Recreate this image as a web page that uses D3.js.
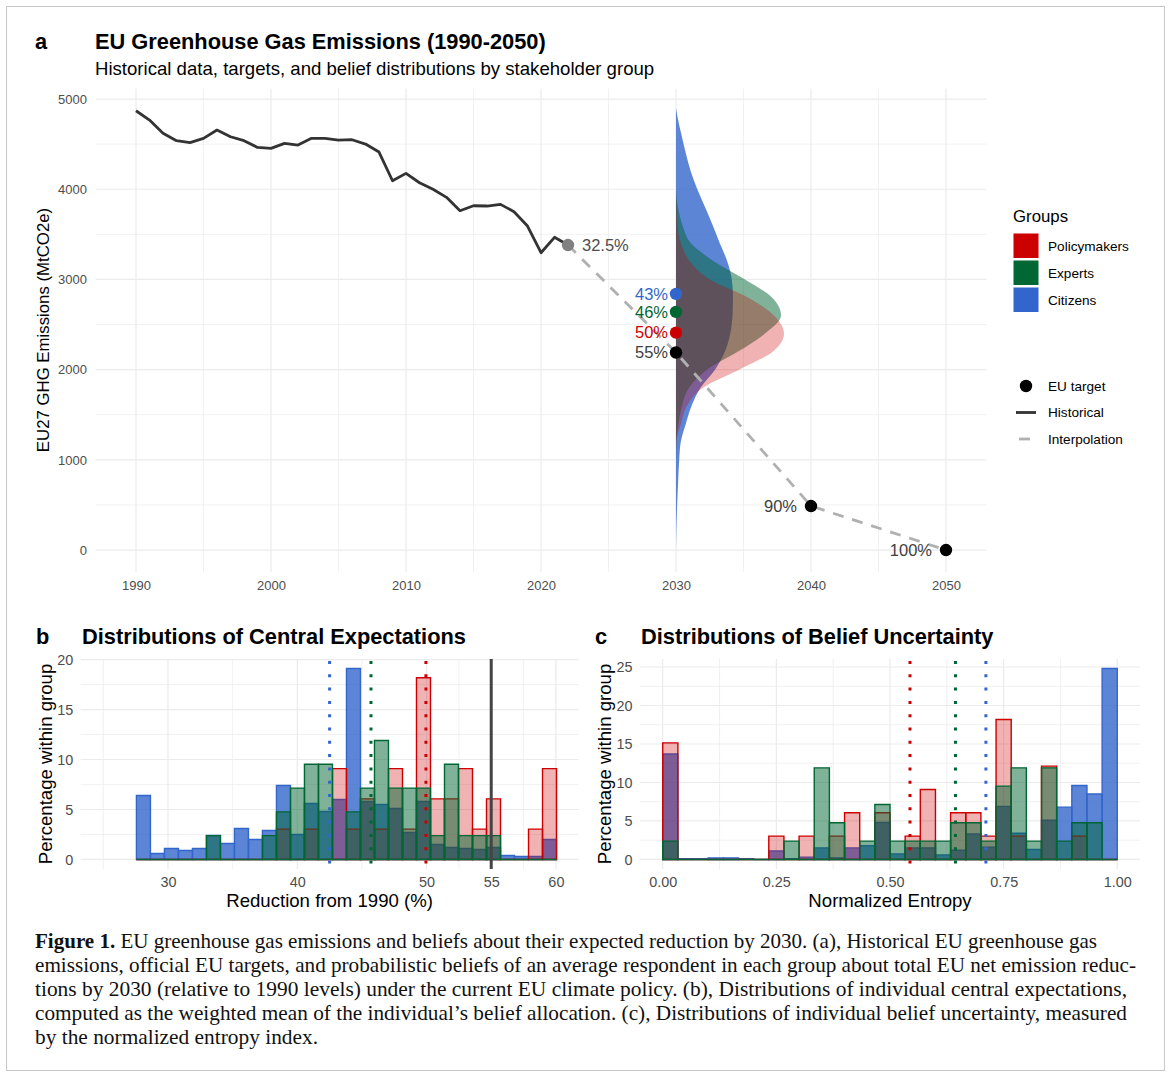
<!DOCTYPE html>
<html><head><meta charset="utf-8">
<script src="https://cdn.jsdelivr.net/npm/d3@7"></script>
<style>body{margin:0;background:#fff;}</style>
</head><body>
<svg id="c" width="1170" height="1075"></svg>
<script>
// ================= DATA =================
const histYears = d3.range(1990, 2023);
const histEmissions = [4870,4767,4620,4538,4516,4564,4656,4582,4538,4464,4453,4509,4490,4564,4564,4545,4549,4501,4412,4094,4176,4072,3999,3910,3762,3817,3814,3832,3751,3592,3296,3467,3381];
const lastHistLabel = "32.5%";
const targetYears = [2030, 2040, 2050];
const targetEmissions = [2190, 488, 0];
const targetLabels = ["55%", "90%", "100%"];

const groups = ["Policymakers", "Experts", "Citizens"];
const groupColors = ["#CC0000", "#006633", "#3366CC"];
const groupMeanEmissions = [2410, 2640, 2840];
const groupMeanLabels = ["50%", "46%", "43%"];

// belief densities at 2030 (relative density) by emission level (MtCO2e)
const densityLevels = [0,200,400,600,800,1000,1200,1400,1600,1800,2000,2200,2400,2600,2800,3000,3200,3400,3600,3800,4000,4200,4400,4600,4800,4900];
const densPolicymakers = [0,0,0,0,0,0,0.5,5,11,27,63,97,108,98,72,34,14,5,1.5,0.5,0,0,0,0,0,0];
const densExperts      = [0,0,0,0,0,0,0.3,2.5,6,13,31,62,89,105,96,69,38,15,6.5,2,0,0,0,0,0,0];
const densCitizens     = [0,0.3,0.8,1.5,2.3,3.2,4.8,9.8,15.6,24.5,39,49,54.3,56.5,57,55.8,51.3,43.8,36.7,29.1,21.3,14.7,9.8,5.5,1.5,0];

const xTicksA = [1990, 2000, 2010, 2020, 2030, 2040, 2050];
const yTicksA = [0, 1000, 2000, 3000, 4000, 5000];

// Panel b: central expectations histogram (percentage within group), 30 bins
const binStartB = 27.56, binWidthB = 1.083;
const citizensB = [6.4,0.6,1.1,0.9,1.1,2.4,1.6,3.1,2.0,2.9,7.4,2.5,5.6,4.8,6.0,19.1,5.8,5.5,5.1,2.7,5.8,1.5,1.2,1.1,1.0,1.2,0.4,0.3,0.3,2.0];
const expertsB  = [0,0,0,0,0,2.38,0,0,0,2.38,4.76,7.14,9.52,9.52,0,4.76,7.14,11.9,7.14,7.14,7.14,2.38,9.52,2.38,2.38,2.38,0,0,0,0];
const policyB   = [0,0,0,0,0,0,0,0,0,0,3.03,0,3.03,0,9.09,3.03,6.06,3.03,9.09,3.03,18.18,6.06,6.06,9.09,3.03,6.06,0,0,3.03,9.09];
const meansB = [49.95, 45.7, 42.5];   // Policymakers, Experts, Citizens
const targetB = 55;
const xTicksB = [30, 40, 50, 55, 60];
const yTicksB = [0, 5, 10, 15, 20];

// Panel c: normalized entropy histogram, 30 bins on [0,1]
const binStartC = 0, binWidthC = 1/30;
const citizensC = [13.7,0.1,0.1,0.2,0.2,0.1,0,1.1,0.1,0.3,1.5,0.2,1.5,1.8,4.8,0.7,1.5,1.5,0.6,1.2,3.3,1.6,6.9,3.4,1.3,5.1,6.8,9.6,8.5,24.8];
const expertsC  = [2.38,0,0,0,0,0,0,0,2.38,0,11.9,4.76,0,2.38,7.14,2.38,2.38,2.38,2.38,4.76,4.76,2.38,9.52,11.9,2.38,11.9,2.38,4.76,4.76,0];
const policyC   = [15.15,0,0,0,0,0,0,3.03,0,3.03,0,3.03,6.06,0,6.06,0,3.03,9.09,0,6.06,6.06,3.03,18.18,3.03,0,12.12,0,3.03,0,0];
const meansC = [0.544, 0.644, 0.711];
const xTicksC = [0, 0.25, 0.5, 0.75, 1];
const yTicksC = [0, 5, 10, 15, 20, 25];

const captionLines = [
  ["Figure 1.", " EU greenhouse gas emissions and beliefs about their expected reduction by 2030. (a), Historical EU greenhouse gas"],
  ["", "emissions, official EU targets, and probabilistic beliefs of an average respondent in each group about total EU net emission reduc-"],
  ["", "tions by 2030 (relative to 1990 levels) under the current EU climate policy. (b), Distributions of individual central expectations,"],
  ["", "computed as the weighted mean of the individual\u2019s belief allocation. (c), Distributions of individual belief uncertainty, measured"],
  ["", "by the normalized entropy index."]
];

// ================= STYLE HELPERS =================
const FONT = "'Liberation Sans', Arial, Helvetica, sans-serif";
const SERIF = "'Liberation Serif', 'Times New Roman', serif";
const GRID = "#ebebeb";
const alphaOf = {Policymakers: 0.3, Experts: 0.5, Citizens: 0.8};
const colorOf = {}; groups.forEach((g,i)=>colorOf[g]=groupColors[i]);
const expand = (a, b, m=0.05) => [a-(b-a)*m, b+(b-a)*m];

const svg = d3.select("#c");
svg.append("rect").attr("width",1170).attr("height",1075).attr("fill","#fff");
svg.append("rect").attr("x",6.5).attr("y",6.5).attr("width",1158).attr("height",1064)
  .attr("fill","none").attr("stroke","#c8c8c8").attr("stroke-width",1);

function txt(g, x, y, s, o={}) {
  const t = g.append("text").attr("x",x).attr("y",y).text(s)
    .attr("font-family", o.family||FONT).attr("font-size", o.size||13).attr("fill", o.fill||"#000");
  if (o.weight) t.attr("font-weight", o.weight);
  if (o.anchor) t.attr("text-anchor", o.anchor);
  if (o.dy) t.attr("dy", o.dy);
  if (o.transform) t.attr("transform", o.transform);
  return t;
}
function grid(g, x, y, xMaj, xMin, yMaj, yMin) {
  const [x0,x1] = x.range(), [y0,y1] = y.range();
  xMin.forEach(v=>g.append("line").attr("x1",x(v)).attr("x2",x(v)).attr("y1",y0).attr("y2",y1).attr("stroke",GRID).attr("stroke-width",0.7));
  yMin.forEach(v=>g.append("line").attr("y1",y(v)).attr("y2",y(v)).attr("x1",x0).attr("x2",x1).attr("stroke",GRID).attr("stroke-width",0.7));
  xMaj.forEach(v=>g.append("line").attr("x1",x(v)).attr("x2",x(v)).attr("y1",y0).attr("y2",y1).attr("stroke",GRID).attr("stroke-width",1.2));
  yMaj.forEach(v=>g.append("line").attr("y1",y(v)).attr("y2",y(v)).attr("x1",x0).attr("x2",x1).attr("stroke",GRID).attr("stroke-width",1.2));
}
function styleAxis(sel, size) {
  sel.select(".domain").remove();
  sel.selectAll("line").remove();
  sel.attr("font-family", FONT).attr("font-size", size);
  sel.selectAll("text").attr("fill", "#4d4d4d");
}

// ================= PANEL A =================
const gA = svg.append("g");
const xA = d3.scaleLinear().domain(expand(1990, 2050)).range([95.5, 986.5]);
const yA = d3.scaleLinear().domain(expand(0, d3.max(histEmissions))).range([572, 88.8]);
grid(gA, xA, yA, xTicksA, d3.range(1995, 2050, 10), yTicksA, d3.range(500, 5000, 1000));

gA.append("g").attr("transform", `translate(0,${572})`)
  .call(d3.axisBottom(xA).tickValues(xTicksA).tickSize(0).tickPadding(8.4).tickFormat(d3.format("d")))
  .call(s=>styleAxis(s, 13));
gA.append("g").attr("transform", `translate(${95.5},0)`)
  .call(d3.axisLeft(yA).tickValues(yTicksA).tickSize(0).tickPadding(8.5).tickFormat(d3.format("d")))
  .call(s=>styleAxis(s, 13));

txt(gA, 35, 49, "a", {size:21.8, weight:"bold"});
txt(gA, 95, 49, "EU Greenhouse Gas Emissions (1990-2050)", {size:21.8, weight:"bold"});
txt(gA, 95, 75, "Historical data, targets, and belief distributions by stakeholder group", {size:18.6});
txt(gA, 0, 0, "EU27 GHG Emissions (MtCO2e)", {size:16.8, anchor:"middle", dy:"0.35em", transform:"translate(43,330) rotate(-90)"});

// densities
const dScale = d3.scaleLinear().domain([0, 108]).range([0, 8]);
const densBy = {Policymakers: densPolicymakers, Experts: densExperts, Citizens: densCitizens};
const densArea = d3.area().curve(d3.curveMonotoneY)
  .y(d=>yA(d.level)).x0(xA(2030)).x1(d=>xA(2030 + dScale(d.v)));
["Citizens", "Experts", "Policymakers"].forEach(g=>{
  const pts = densityLevels.map((l,i)=>({level:l, v:densBy[g][i]})).reverse();
  gA.append("path").attr("d", densArea(pts)).attr("fill", colorOf[g]).attr("fill-opacity", alphaOf[g]);
});

// historical line
const histData = histYears.map((y,i)=>({year:y, v:histEmissions[i]}));
gA.append("path").attr("d", d3.line().x(d=>xA(d.year)).y(d=>yA(d.v))(histData))
  .attr("fill","none").attr("stroke","#333333").attr("stroke-width",2.8).attr("stroke-linejoin","round");
// interpolation
const last = histData[histData.length-1];
const interp = [last].concat(targetYears.map((y,i)=>({year:y, v:targetEmissions[i]})));
gA.append("path").attr("d", d3.line().x(d=>xA(d.year)).y(d=>yA(d.v))(interp))
  .attr("fill","none").attr("stroke","#b0b0b0").attr("stroke-width",2.8).attr("stroke-dasharray","11 9");

// points & labels
gA.append("circle").attr("cx", xA(last.year)).attr("cy", yA(last.v)).attr("r", 6.2).attr("fill", "#808080");
txt(gA, xA(last.year)+14, yA(last.v), lastHistLabel, {size:16.5, fill:"#4d4d4d", dy:"0.35em"});
groups.forEach((g,i)=>{
  gA.append("circle").attr("cx", xA(2030)).attr("cy", yA(groupMeanEmissions[i])).attr("r", 6.2).attr("fill", groupColors[i]);
  txt(gA, xA(2030)-8, yA(groupMeanEmissions[i]), groupMeanLabels[i], {size:16.5, fill:groupColors[i], anchor:"end", dy:"0.35em"});
});
targetYears.forEach((y,i)=>{
  gA.append("circle").attr("cx", xA(y)).attr("cy", yA(targetEmissions[i])).attr("r", 6.2).attr("fill", "#000");
  txt(gA, xA(y)-(i===0?8:14), yA(targetEmissions[i]), targetLabels[i], {size:16.5, fill:"#404040", anchor:"end", dy:"0.35em"});
});

// legend
const lg = svg.append("g");
txt(lg, 1013, 222, "Groups", {size:16.8});
groups.forEach((g,i)=>{
  lg.append("rect").attr("x",1013.5).attr("y",233.5+i*27).attr("width",25).attr("height",24.5).attr("fill",groupColors[i]);
  txt(lg, 1048, 246+i*27, g, {size:13.6, dy:"0.35em"});
});
lg.append("circle").attr("cx",1026).attr("cy",386).attr("r",6.2).attr("fill","#000");
txt(lg, 1048, 386, "EU target", {size:13.6, dy:"0.35em"});
lg.append("line").attr("x1",1016).attr("x2",1036).attr("y1",412.5).attr("y2",412.5).attr("stroke","#333").attr("stroke-width",2.8);
txt(lg, 1048, 412.5, "Historical", {size:13.6, dy:"0.35em"});
lg.append("line").attr("x1",1019).attr("x2",1030).attr("y1",439).attr("y2",439).attr("stroke","#b0b0b0").attr("stroke-width",2.8);
txt(lg, 1048, 439, "Interpolation", {size:13.6, dy:"0.35em"});

// ================= HISTOGRAM PANELS =================
function histPanel(o) {
  const g = svg.append("g");
  const x = d3.scaleLinear().domain(o.xDomain).range(o.xRange);
  const maxV = d3.max([].concat(o.series.Citizens, o.series.Experts, o.series.Policymakers));
  const y = d3.scaleLinear().domain(expand(0, maxV)).range([869, 659]);
  grid(g, x, y, o.xTicks, o.xMinor, o.yTicks, o.yMinor);
  g.append("g").attr("transform", "translate(0,869)")
    .call(d3.axisBottom(x).tickValues(o.xTicks).tickSize(0).tickPadding(7.8).tickFormat(o.xFmt))
    .call(s=>styleAxis(s, 14.4));
  g.append("g").attr("transform", `translate(${o.xRange[0]},0)`)
    .call(d3.axisLeft(y).tickValues(o.yTicks).tickSize(0).tickPadding(7.5).tickFormat(d3.format("d")))
    .call(s=>styleAxis(s, 14.4));
  // bars: draw order Citizens, Policymakers, Experts
  ["Citizens", "Policymakers", "Experts"].forEach(grp=>{
    o.series[grp].forEach((v,i)=>{
      const a = o.binStart + i*o.binWidth, b = a + o.binWidth;
      const x0 = x(a), x1 = x(b), y0 = y(0), y1 = y(v);
      g.append("path").attr("d", `M${x0},${y0}H${x1}V${y1}H${x0}Z`)
        .attr("fill", colorOf[grp]).attr("fill-opacity", alphaOf[grp])
        .attr("stroke", colorOf[grp]).attr("stroke-width", 1.4).attr("stroke-linejoin","miter");
    });
  });
  groups.forEach((grp,i)=>{
    g.append("line").attr("x1", x(o.means[i])).attr("x2", x(o.means[i])).attr("y1", 661).attr("y2", 869)
      .attr("stroke", groupColors[i]).attr("stroke-width", 3).attr("stroke-dasharray", "3 10.3");
  });
  if (o.target !== undefined) {
    g.append("line").attr("x1", x(o.target)).attr("x2", x(o.target)).attr("y1", 659).attr("y2", 869)
      .attr("stroke", "#444").attr("stroke-width", 3);
  }
  txt(g, o.labelX, 644, o.label, {size:21.8, weight:"bold"});
  txt(g, o.titleX, 644, o.title, {size:21.8, weight:"bold"});
  txt(g, (o.xRange[0]+o.xRange[1])/2, 907, o.xTitle, {size:18.6, anchor:"middle"});
  txt(g, 0, 0, "Percentage within group", {size:18.6, anchor:"middle", dy:"0.35em", transform:`translate(${o.yTitleX},764) rotate(-90)`});
}

histPanel({
  xDomain: expand(25, 60), xRange: [80.7, 578.5],
  xTicks: xTicksB, xMinor: [25, 35, 45, 52.5, 57.5], yTicks: yTicksB, yMinor: [2.5, 7.5, 12.5, 17.5],
  xFmt: d3.format("d"),
  series: {Citizens: citizensB, Experts: expertsB, Policymakers: policyB},
  binStart: binStartB, binWidth: binWidthB, means: meansB, target: targetB,
  label: "b", labelX: 36, title: "Distributions of Central Expectations", titleX: 82,
  xTitle: "Reduction from 1990 (%)", yTitleX: 45
});
histPanel({
  xDomain: expand(0, 1), xRange: [640, 1140],
  xTicks: xTicksC, xMinor: [0.125, 0.375, 0.625, 0.875], yTicks: yTicksC, yMinor: [2.5, 7.5, 12.5, 17.5, 22.5],
  xFmt: d3.format(".2f"),
  series: {Citizens: citizensC, Experts: expertsC, Policymakers: policyC},
  binStart: binStartC, binWidth: binWidthC, means: meansC,
  label: "c", labelX: 595, title: "Distributions of Belief Uncertainty", titleX: 641,
  xTitle: "Normalized Entropy", yTitleX: 604
});

// ================= CAPTION =================
const capWidths = [1062, 1101, 1092, 1092, 283];
captionLines.forEach((ln,i)=>{
  const t = svg.append("text").attr("x",35).attr("y",948 + i*24)
    .attr("font-family", SERIF).attr("font-size", 21).attr("fill","#111")
    .attr("textLength", capWidths[i]).attr("lengthAdjust","spacingAndGlyphs");
  if (ln[0]) t.append("tspan").attr("font-weight","bold").text(ln[0]);
  t.append("tspan").text(ln[1]);
});
</script>
</body></html>
